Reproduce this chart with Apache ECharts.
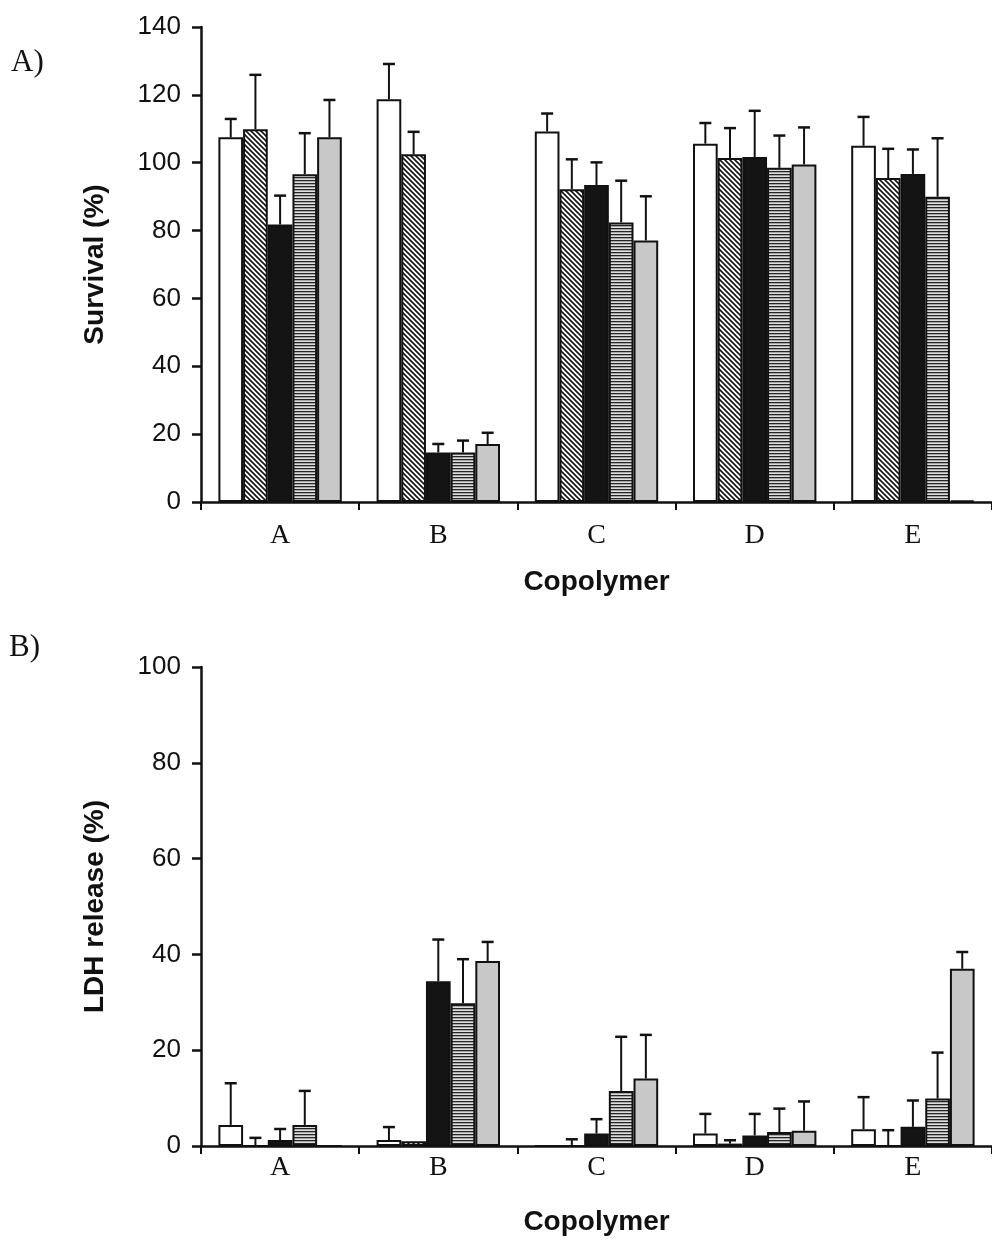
<!DOCTYPE html>
<html>
<head>
<meta charset="utf-8">
<script src="https://cdn.jsdelivr.net/npm/echarts@6/dist/echarts.min.js"></script>
<style>
html,body{margin:0;padding:0;background:#fff;}
#chart{width:992px;height:1243px;}
</style>
</head>
<body>
<div id="chart"></div>
<script>
// ---- data ----
const categories = ['A', 'B', 'C', 'D', 'E'];
const survivalTicks = [0, 20, 40, 60, 80, 100, 120, 140];
const ldhTicks = [0, 20, 40, 60, 80, 100];

// Panel A: Survival (%) — five treatments per copolymer
const survival1 = [107.5, 118.7, 109.2, 105.6, 105.0];
const survival1Err = [5.4, 10.4, 5.3, 6.1, 8.5];
const survival2 = [109.9, 102.5, 92.2, 101.4, 95.5];
const survival2Err = [16.0, 6.6, 8.8, 8.8, 8.6];
const survival3 = [81.8, 14.6, 93.4, 101.7, 96.7];
const survival3Err = [8.5, 2.5, 6.7, 13.6, 7.2];
const survival4 = [96.6, 14.6, 82.4, 98.5, 90.0];
const survival4Err = [12.1, 3.5, 12.3, 9.5, 17.2];
const survival5 = [107.5, 17.1, 77.1, 99.5, 0.5];
const survival5Err = [11.0, 3.3, 13.0, 10.9, 0];

// Panel B: LDH release (%)
const ldh1 = [4.4, 1.25, 0, 2.6, 3.5];
const ldh1Err = [8.7, 2.7, 0, 4.1, 6.7];
const ldh2 = [0, 1.0, 0, 0.5, 0];
const ldh2Err = [1.7, 0, 1.4, 0.7, 3.3];
const ldh3 = [1.25, 34.4, 2.6, 2.2, 4.0];
const ldh3Err = [2.3, 8.7, 3.0, 4.5, 5.5];
const ldh4 = [4.4, 29.8, 11.5, 2.9, 9.9];
const ldh4Err = [7.1, 9.2, 11.3, 4.9, 9.6];
const ldh5 = [0, 38.6, 14.1, 3.2, 37.0];
const ldh5Err = [0, 4.0, 9.1, 6.1, 3.5];

// ---- fill patterns ----
function makeCanvas(w, h, draw) {
  const c = document.createElement('canvas');
  c.width = w; c.height = h;
  draw(c.getContext('2d'), w, h);
  return c;
}
const hatchCanvas = makeCanvas(5, 5, (g, w, h) => {
  g.fillStyle = '#fff'; g.fillRect(0, 0, w, h);
  g.strokeStyle = '#151515'; g.lineWidth = 1.6;
  g.beginPath();
  g.moveTo(-1, -1); g.lineTo(w + 1, h + 1);
  g.moveTo(-1, h - 1); g.lineTo(1, h + 1);
  g.moveTo(w - 1, -1); g.lineTo(w + 1, 1);
  g.stroke();
});
const stripeCanvas = makeCanvas(4, 3, (g, w, h) => {
  g.fillStyle = '#dedede'; g.fillRect(0, 0, w, h);
  g.fillStyle = '#262626'; g.fillRect(0, 0, w, 1.3);
});
const fills = [
  '#ffffff',
  { image: hatchCanvas, repeat: 'repeat' },
  '#141414',
  { image: stripeCanvas, repeat: 'repeat' },
  '#c8c8c8'
];

const CAT_GAP = 0.22;
const N = 5;

function errData(errArrays, valArrays) {
  const out = [];
  for (let s = 0; s < N; s++) {
    for (let c = 0; c < categories.length; c++) {
      out.push([c, valArrays[s][c], errArrays[s][c], s]);
    }
  }
  return out;
}

function renderErr(params, api) {
  const c = api.value(0), v = api.value(1), e = api.value(2), s = api.value(3);
  if (!e) return;
  const bw = api.size([1, 0])[0];
  const groupW = bw * (1 - CAT_GAP);
  const barW = groupW / N;
  const p0 = api.coord([c, v]);
  const p1 = api.coord([c, v + e]);
  const x = p0[0] - groupW / 2 + (s + 0.5) * barW;
  return {
    type: 'group',
    children: [
      { type: 'line', shape: { x1: x, y1: p0[1], x2: x, y2: p1[1] }, style: { stroke: '#111', lineWidth: 2 } },
      { type: 'line', shape: { x1: x - 6, y1: p1[1], x2: x + 6, y2: p1[1] }, style: { stroke: '#111', lineWidth: 2.5 } }
    ]
  };
}

const survivalVals = [survival1, survival2, survival3, survival4, survival5];
const survivalErrs = [survival1Err, survival2Err, survival3Err, survival4Err, survival5Err];
const ldhVals = [ldh1, ldh2, ldh3, ldh4, ldh5];
const ldhErrs = [ldh1Err, ldh2Err, ldh3Err, ldh4Err, ldh5Err];

const sans = 'Liberation Sans, Arial, sans-serif';
const serif = 'Liberation Serif, Times New Roman, serif';

function xAxisCfg(gridIndex, labelMargin, nameGap) {
  return {
    type: 'category', gridIndex, data: categories,
    axisLine: { lineStyle: { color: '#111', width: 2.5 } },
    axisTick: { show: true, length: 8, lineStyle: { color: '#111', width: 2 } },
    axisLabel: { fontFamily: serif, fontSize: 28, color: '#111', margin: labelMargin },
    name: 'Copolymer', nameLocation: 'middle', nameGap,
    nameTextStyle: { fontFamily: sans, fontWeight: 'bold', fontSize: 28, color: '#111' },
    splitLine: { show: false }
  };
}
function yAxisCfg(gridIndex, ticks, name) {
  return {
    type: 'value', gridIndex, min: ticks[0], max: ticks[ticks.length - 1],
    interval: ticks[1] - ticks[0],
    axisLine: { show: true, lineStyle: { color: '#111', width: 2.5 } },
    axisTick: { show: true, length: 9, lineStyle: { color: '#111', width: 2.5 } },
    axisLabel: { fontFamily: sans, fontSize: 26, color: '#111', margin: 20 },
    splitLine: { show: false },
    name, nameLocation: 'middle', nameRotate: 90, nameGap: 92,
    nameTextStyle: { fontFamily: sans, fontWeight: 'bold', fontSize: 28, color: '#111' }
  };
}

const series = [];
for (let s = 0; s < N; s++) {
  series.push({
    type: 'bar', xAxisIndex: 0, yAxisIndex: 0, data: survivalVals[s],
    barGap: '0%', barCategoryGap: (CAT_GAP * 100) + '%',
    itemStyle: { color: fills[s], borderColor: '#111', borderWidth: 2 },
    silent: true, animation: false
  });
}
for (let s = 0; s < N; s++) {
  series.push({
    type: 'bar', xAxisIndex: 1, yAxisIndex: 1, data: ldhVals[s],
    barGap: '0%', barCategoryGap: (CAT_GAP * 100) + '%',
    itemStyle: { color: fills[s], borderColor: '#111', borderWidth: 2 },
    silent: true, animation: false
  });
}
series.push({
  type: 'custom', xAxisIndex: 0, yAxisIndex: 0, renderItem: renderErr,
  data: errData(survivalErrs, survivalVals), z: 5, silent: true, animation: false
});
series.push({
  type: 'custom', xAxisIndex: 1, yAxisIndex: 1, renderItem: renderErr,
  data: errData(ldhErrs, ldhVals), z: 5, silent: true, animation: false
});

const chart = echarts.init(document.getElementById('chart'), null, { renderer: 'canvas' });
chart.setOption({
  backgroundColor: '#fff',
  animation: false,
  grid: [
    { left: 201, top: 27, width: 795, height: 475 },
    { left: 201, top: 667, width: 795, height: 479 }
  ],
  xAxis: [xAxisCfg(0, 20, 66), xAxisCfg(1, 8, 62)],
  yAxis: [yAxisCfg(0, survivalTicks, 'Survival (%)'), yAxisCfg(1, ldhTicks, 'LDH release (%)')],
  graphic: [
    { type: 'text', left: 11, top: 47, style: { text: 'A)', font: '31px ' + serif, fill: '#111' } },
    { type: 'text', left: 9, top: 632, style: { text: 'B)', font: '31px ' + serif, fill: '#111' } }
  ],
  series
});
</script>
</body>
</html>
